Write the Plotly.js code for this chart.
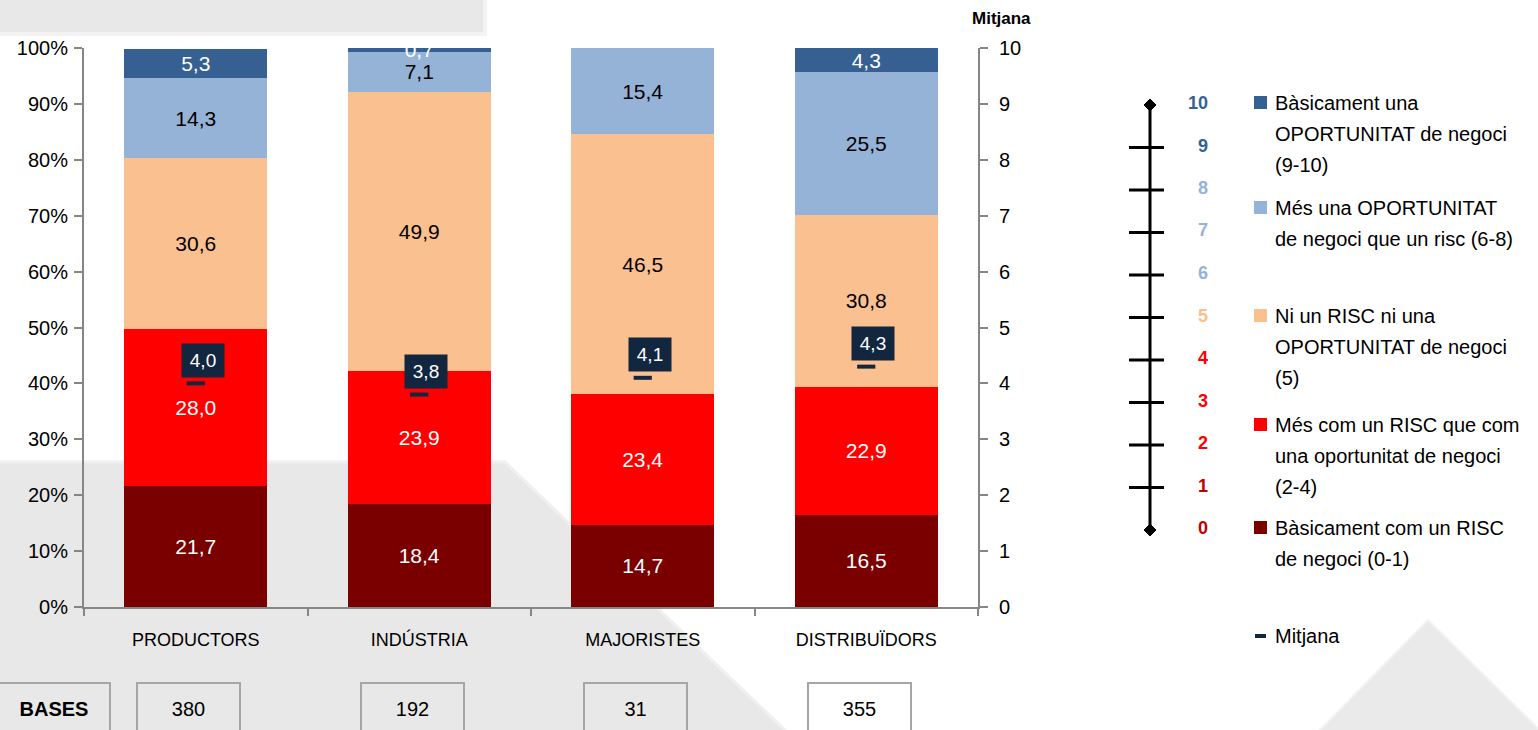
<!DOCTYPE html>
<html>
<head>
<meta charset="utf-8">
<script src="https://cdn.plot.ly/plotly-3.0.1.min.js"></script>
<style>html,body{margin:0;padding:0;background:#fff;}#chart{width:1538px;height:730px;}</style>
</head>
<body>
<div id="chart"></div>
<script>
// ---------- DATA ----------
const categories = ['PRODUCTORS', 'INDÚSTRIA', 'MAJORISTES', 'DISTRIBUÏDORS'];
const risc01   = [21.7, 18.4, 14.7, 16.5];   // Bàsicament com un RISC (0-1)
const risc24   = [28.0, 23.9, 23.4, 22.9];   // Més com un RISC (2-4)
const neutral5 = [30.6, 49.9, 46.5, 30.8];   // Ni un RISC ni una OPORTUNITAT (5)
const oport68  = [14.3, 7.1, 15.4, 25.5];    // Més una OPORTUNITAT (6-8)
const oport910 = [5.3, 0.7, 0, 4.3];         // Bàsicament una OPORTUNITAT (9-10)
const mitjana  = [4.0, 3.8, 4.1, 4.3];
const bases    = [380, 192, 31, 355];
const pctTicks = [0, 10, 20, 30, 40, 50, 60, 70, 80, 90, 100];
const pctLabels = ['0%', '10%', '20%', '30%', '40%', '50%', '60%', '70%', '80%', '90%', '100%'];
const meanTicks = [0, 1, 2, 3, 4, 5, 6, 7, 8, 9, 10];
const scaleValues = [10, 9, 8, 7, 6, 5, 4, 3, 2, 1, 0];
const legendLines = [
  ['Bàsicament una', 'OPORTUNITAT de negoci', '(9-10)'],
  ['Més una OPORTUNITAT', 'de negoci que un risc (6-8)'],
  ['Ni un RISC ni una', 'OPORTUNITAT de negoci', '(5)'],
  ['Més com un RISC que com', 'una oportunitat de negoci', '(2-4)'],
  ['Bàsicament com un RISC', 'de negoci (0-1)']
];
const meanName = 'Mitjana';
const basesLabel = 'BASES';

// ---------- STYLE ----------
const FONT = 'Liberation Sans, Arial, sans-serif';
const C_DARKRED = '#7A0000', C_RED = '#FF0000', C_PEACH = '#FAC090', C_LBLUE = '#95B3D7', C_DBLUE = '#366092';
const C_NAVY = '#12263F', C_AXIS = '#868686', C_BG = '#E8E8E8';
const M = {l: 84, r: 560, t: 48, b: 123};
const W = 1538 - M.l - M.r, H = 730 - M.t - M.b;
const xp = px => (px - M.l) / W;
const yp = py => (M.t + H - py) / H;
const fmt = v => v > 0 ? v.toFixed(1).replace('.', ',') : '';

const seriesVals = [risc01, risc24, neutral5, oport68, oport910];
const seriesColors = [C_DARKRED, C_RED, C_PEACH, C_LBLUE, C_DBLUE];
const seriesText = ['#FFFFFF', '#FFFFFF', '#000000', '#000000', '#FFFFFF'];
const seriesNames = legendLines.slice().reverse().map(l => l.join(' '));

const traces = seriesVals.map((vals, i) => ({
  type: 'bar', x: categories, y: vals, name: seriesNames[i],
  marker: {color: seriesColors[i], line: {width: 0}},
  text: vals.map(fmt), textposition: 'inside', insidetextanchor: 'middle',
  textangle: 0, constraintext: 'none',
  textfont: {family: FONT, size: 21, color: seriesText[i]},
  hoverinfo: 'skip', cliponaxis: true
}));
traces.push({
  type: 'scatter', mode: 'markers', x: categories, y: mitjana, yaxis: 'y2', name: meanName,
  marker: {symbol: 'line-ew', size: 13, color: C_NAVY, line: {color: C_NAVY, width: 4}},
  hoverinfo: 'skip'
});

const shapes = [];
const annotations = [];
const note = o => annotations.push(Object.assign({showarrow: false, xanchor: 'center', yanchor: 'middle'}, o));

// background decoration
shapes.push({type: 'rect', xref: 'paper', yref: 'paper', x0: xp(-5), x1: xp(485), y0: yp(-5), y1: yp(34),
  fillcolor: C_BG, line: {color: '#F3F3F3', width: 4}, layer: 'below'});
shapes.push({type: 'path', xref: 'paper', yref: 'paper', layer: 'below',
  path: `M ${xp(-5)} ${yp(462)} L ${xp(505)} ${yp(462)} L ${xp(790)} ${yp(735)} L ${xp(-5)} ${yp(735)} Z`,
  fillcolor: C_BG, line: {color: '#F0F0F0', width: 3}});
shapes.push({type: 'path', xref: 'paper', yref: 'paper', layer: 'below',
  path: `M ${xp(1428)} ${yp(620)} L ${xp(1315)} ${yp(735)} L ${xp(1545)} ${yp(735)} Z`,
  fillcolor: '#EAEAEA', line: {color: '#F2F2F2', width: 2}});

// mean labels
categories.forEach((c, i) => {
  note({xref: 'x', yref: 'y2', x: c, y: mitjana[i], xshift: 7, yshift: 23,
    text: fmt(mitjana[i]), bgcolor: C_NAVY, borderpad: 3, width: 36, height: 27,
    font: {family: FONT, size: 19, color: '#FFFFFF'}});
});

// bases boxes
note({xref: 'paper', yref: 'paper', x: xp(54), y: yp(709), text: '<b>' + basesLabel + '</b>',
  width: 110, height: 50, borderpad: 0, bordercolor: '#A6A6A6', borderwidth: 2,
  font: {family: FONT, size: 20, color: '#000'}});
categories.forEach((c, i) => {
  note({xref: 'x', yref: 'paper', x: c, y: yp(709), xshift: -7, text: String(bases[i]),
    width: 101, height: 50, borderpad: 0, bordercolor: '#A6A6A6', borderwidth: 2,
    font: {family: FONT, size: 20, color: '#000'}});
});

// right axis title
note({xref: 'paper', yref: 'paper', x: xp(1001), y: yp(18), text: '<b>' + meanName + '</b>',
  font: {family: FONT, size: 17, color: '#000'}});

// scale graphic
const scaleX = 1150, scaleTop = 105, scaleStep = 42.5;
const scaleY = v => scaleTop + (10 - v) * scaleStep;
const scaleColor = v => v >= 9 ? C_DBLUE : v >= 6 ? C_LBLUE : v === 5 ? C_PEACH : v >= 2 ? C_RED : '#C00000';
shapes.push({type: 'line', xref: 'paper', yref: 'paper', x0: xp(scaleX), x1: xp(scaleX), y0: yp(scaleY(10)), y1: yp(scaleY(0)),
  line: {color: '#000', width: 3}});
scaleValues.forEach(v => {
  if (v > 0 && v < 10) {
    shapes.push({type: 'line', xref: 'paper', yref: 'paper', x0: xp(scaleX - 21), x1: xp(scaleX + 14),
      y0: yp(scaleY(v)), y1: yp(scaleY(v)), line: {color: '#000', width: 3}});
  } else {
    const cy = scaleY(v);
    shapes.push({type: 'path', xref: 'paper', yref: 'paper', fillcolor: '#000', line: {color: '#000', width: 1},
      path: `M ${xp(scaleX)} ${yp(cy - 6)} L ${xp(scaleX + 6)} ${yp(cy)} L ${xp(scaleX)} ${yp(cy + 6)} L ${xp(scaleX - 6)} ${yp(cy)} Z`});
  }
  note({xref: 'paper', yref: 'paper', x: xp(1210), y: yp(scaleY(v) - 2), xanchor: 'right',
    text: '<b>' + v + '</b>', font: {family: FONT, size: 18, color: scaleColor(v)}});
});

// legend (custom)
const legendTop = [103, 208, 316, 425, 528];
const legendColors = seriesColors.slice().reverse();
legendLines.forEach((lines, i) => {
  const y0 = legendTop[i];
  shapes.push({type: 'rect', xref: 'paper', yref: 'paper', x0: xp(1254), x1: xp(1267), y0: yp(y0 - 7), y1: yp(y0 + 6),
    fillcolor: legendColors[i], line: {width: 0}});
  lines.forEach((t, j) => {
    note({xref: 'paper', yref: 'paper', x: xp(1273), y: yp(y0 + j * 31), xanchor: 'left',
      text: t, font: {family: FONT, size: 20, color: '#000'}});
  });
});
shapes.push({type: 'line', xref: 'paper', yref: 'paper', x0: xp(1255), x1: xp(1266), y0: yp(636), y1: yp(636),
  line: {color: C_NAVY, width: 4}});
note({xref: 'paper', yref: 'paper', x: xp(1273), y: yp(636), xanchor: 'left',
  text: meanName, font: {family: FONT, size: 20, color: '#000'}});

const axisCommon = {showline: true, linecolor: C_AXIS, linewidth: 2, ticks: 'outside', tickcolor: C_AXIS,
  tickwidth: 2, showgrid: false, zeroline: false, fixedrange: true};

const layout = {
  width: 1538, height: 730, margin: M,
  paper_bgcolor: '#FFFFFF', plot_bgcolor: 'rgba(0,0,0,0)',
  barmode: 'stack', bargap: 0.36, showlegend: false,
  font: {family: FONT, size: 20, color: '#000'},
  xaxis: Object.assign({}, axisCommon, {type: 'category', tickson: 'boundaries', ticklen: 7,
    tickfont: {family: FONT, size: 18, color: '#000'}, ticklabelstandoff: 15}),
  yaxis: Object.assign({}, axisCommon, {range: [0, 100], tickvals: pctTicks, ticktext: pctLabels, ticklen: 8,
    tickfont: {family: FONT, size: 20, color: '#000'}, ticklabelstandoff: 2}),
  yaxis2: Object.assign({}, axisCommon, {overlaying: 'y', side: 'right', range: [0, 10], tickvals: meanTicks,
    ticklen: 8, tickfont: {family: FONT, size: 20, color: '#000'}, ticklabelstandoff: 7}),
  shapes: shapes,
  annotations: annotations
};

Plotly.newPlot('chart', traces, layout, {displayModeBar: false, staticPlot: true});
</script>
</body>
</html>
